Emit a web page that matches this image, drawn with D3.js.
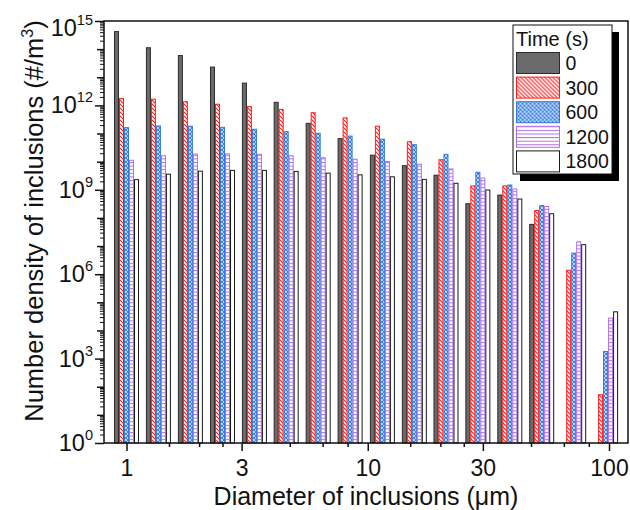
<!DOCTYPE html>
<html>
<head>
<meta charset="utf-8">
<script src="https://cdn.jsdelivr.net/npm/d3@7"></script>
<style>
  html, body { margin: 0; padding: 0; background: #fff; }
  svg { display: block; font-family: "Liberation Sans", Arial, sans-serif; }
</style>
</head>
<body>
<svg id="chart" width="630" height="510"></svg>
<script>
// Inclusion size bins (µm), one bar group per bin
const diameters = [1.0, 1.356, 1.84, 2.5, 3.39, 4.59, 6.23, 8.45, 11.5, 15.6, 21.1, 28.6, 38.8, 52.6, 71.4, 96.8];

// Holding times (s)
const times = ["0", "300", "600", "1200", "1800"];

// Number density of inclusions (#/m^3), one array per holding time (null = no bar)
const series0 = [4.2e14, 1.12e14, 5.9e13, 2.3e13, 6.2e12, 1.29e12, 2.3e11, 6.6e10, 1.7e10, 7.2e9, 3.3e9, 3.2e8, 6.5e8, 5.9e7, null, null];
const series300 = [1.74e12, 1.66e12, 1.35e12, 1.1e12, 9.1e11, 7.2e11, 5.5e11, 3.6e11, 1.82e11, 5.1e10, 1.17e10, 1.38e9, 1.38e9, 1.82e8, 1.38e6, 52];
const series600 = [1.62e11, 1.86e11, 1.82e11, 1.66e11, 1.41e11, 1.17e11, 1.02e11, 8.1e10, 6.3e10, 4.0e10, 1.82e10, 4.2e9, 1.48e9, 2.75e8, 5.6e6, 1.78e3];
const series1200 = [1.12e10, 1.62e10, 1.86e10, 1.9e10, 1.82e10, 1.62e10, 1.38e10, 1.23e10, 1.02e10, 8.1e9, 5.5e9, 2.63e9, 1.07e9, 2.57e8, 1.41e7, 2.75e4];
const series1800 = [2.3e9, 3.6e9, 4.6e9, 4.9e9, 4.9e9, 4.5e9, 3.9e9, 3.4e9, 2.9e9, 2.34e9, 1.7e9, 9.8e8, 4.7e8, 1.41e8, 1.12e7, 4.6e4];

const seriesValues = [series0, series300, series600, series1200, series1800];

// Axis ticks
const xMajorTicks = [1, 3, 10, 30, 100];
const xMinorTicks = [1.5, 2, 2.5, 4.75, 6.5, 8.25, 15, 20, 25, 47.5, 65, 82.5];
const yLabelExponents = [0, 3, 6, 9, 12, 15];

const svg = d3.select("#chart");

const frame = { left: 104, right: 628, top: 21, bottom: 443 };

const x = d3.scaleLog().domain([1, 100]).range([126.5, 609]);
const y = d3.scaleLog().domain([1, 1e15]).range([frame.bottom, frame.top]);

const barW = 5;

// Fill styles per holding time
const defs = svg.append("defs");

// 300 s: red back-diagonal hatch
const pRed = defs.append("pattern").attr("id", "hatchRed")
  .attr("patternUnits", "userSpaceOnUse").attr("width", 4).attr("height", 4);
pRed.append("rect").attr("width", 4).attr("height", 4).attr("fill", "#fff");
pRed.append("path").attr("d", "M-1,-1 L5,5 M3,-1 L5,1 M-1,3 L1,5")
  .attr("stroke", "#ff1a1a").attr("stroke-width", 1.1);

// 600 s: blue cross-hatch
const pBlue = defs.append("pattern").attr("id", "hatchBlue")
  .attr("patternUnits", "userSpaceOnUse").attr("width", 4).attr("height", 4);
pBlue.append("rect").attr("width", 4).attr("height", 4).attr("fill", "#fff");
pBlue.append("path").attr("d", "M-1,-1 L5,5 M3,-1 L5,1 M-1,3 L1,5 M-1,5 L5,-1 M-1,1 L1,-1 M3,5 L5,3")
  .attr("stroke", "#2f78e0").attr("stroke-width", 1.1);

// 1200 s: purple horizontal lines
const pPurple = defs.append("pattern").attr("id", "hatchPurple")
  .attr("patternUnits", "userSpaceOnUse").attr("width", 4).attr("height", 3.6);
pPurple.append("rect").attr("width", 4).attr("height", 3.6).attr("fill", "#fff");
pPurple.append("line").attr("x1", 0).attr("x2", 4).attr("y1", 0.5).attr("y2", 0.5)
  .attr("stroke", "#b06ee6").attr("stroke-width", 1);

const fills = ["#6b6b6b", "url(#hatchRed)", "url(#hatchBlue)", "url(#hatchPurple)", "#ffffff"];
const strokes = ["#2a2a2a", "#ff1a1a", "#2f78e0", "#b06ee6", "#1a1a1a"];

// Bars
const bars = svg.append("g");
seriesValues.forEach((vals, si) => {
  const rows = diameters.map((d, i) => ({ d, v: vals[i] })).filter(r => r.v != null);
  bars.selectAll(null).data(rows).enter().append("rect")
    .attr("x", r => x(r.d) + (si - 2.5) * barW + 0.5)
    .attr("y", r => y(r.v))
    .attr("width", barW - 1)
    .attr("height", r => frame.bottom - y(r.v))
    .attr("fill", fills[si])
    .attr("stroke", strokes[si])
    .attr("stroke-width", 1);
});

// Frame
svg.append("rect")
  .attr("x", frame.left).attr("y", frame.top)
  .attr("width", frame.right - frame.left).attr("height", frame.bottom - frame.top)
  .attr("fill", "none").attr("stroke", "#111").attr("stroke-width", 1.5);

// X axis
const xAxis = svg.append("g").attr("transform", `translate(0,${frame.bottom})`)
  .call(d3.axisBottom(x).tickValues(xMajorTicks).tickSize(8).tickPadding(9).tickFormat(d3.format("d")));
xAxis.select(".domain").remove();
xAxis.selectAll(".tick line").attr("stroke", "#111").attr("stroke-width", 1.5);
xAxis.selectAll(".tick text")
  .attr("y", null).attr("dy", null)
  .attr("transform", "translate(0,33)")
  .attr("font-size", 23).attr("fill", "#111")
  .attr("font-family", "Liberation Sans, Arial, sans-serif");

const xMinor = svg.append("g").attr("transform", `translate(0,${frame.bottom})`)
  .call(d3.axisBottom(x).tickValues(xMinorTicks).tickSize(4).tickFormat(""));
xMinor.select(".domain").remove();
xMinor.selectAll(".tick line").attr("stroke", "#111").attr("stroke-width", 1.5);

// Y axis: decade ticks, log minor ticks, labels every third decade
const decades = d3.range(0, 16).map(e => Math.pow(10, e));
const yMinorVals = [];
for (let e = 0; e < 15; e++) for (let m = 2; m <= 9; m++) yMinorVals.push(m * Math.pow(10, e));

const yMinor = svg.append("g").attr("transform", `translate(${frame.left},0)`)
  .call(d3.axisLeft(y).tickValues(yMinorVals).tickSize(4).tickFormat(""));
yMinor.select(".domain").remove();
yMinor.selectAll(".tick line").attr("stroke", "#111").attr("stroke-width", 1);

const yMajor = svg.append("g").attr("transform", `translate(${frame.left},0)`)
  .call(d3.axisLeft(y).tickValues(decades)
    .tickSizeInner(7).tickSizeOuter(0).tickFormat(""));
yMajor.select(".domain").remove();
yMajor.selectAll(".tick line").attr("stroke", "#111").attr("stroke-width", 1.5)
  .attr("x2", d => (yLabelExponents.includes(Math.round(Math.log10(d))) ? -9 : -7));

const yLabels = svg.append("g");
yLabelExponents.forEach(e => {
  const base = y(Math.pow(10, e)) + (e === 15 ? 15 : 8);
  const t = yLabels.append("text")
    .attr("x", 93).attr("y", base)
    .attr("text-anchor", "end").attr("font-size", 23.5).attr("fill", "#111");
  t.append("tspan").text("10");
  t.append("tspan").attr("font-size", 14.5).attr("dy", -11).text(e);
});

// Axis titles
svg.append("text")
  .attr("x", 366).attr("y", 504.5)
  .attr("text-anchor", "middle").attr("font-size", 25).attr("fill", "#111")
  .text("Diameter of inclusions (μm)");

const yTitle = svg.append("text")
  .attr("transform", "translate(43,221) rotate(-90)")
  .attr("text-anchor", "middle").attr("font-size", 25.5).attr("fill", "#111");
yTitle.append("tspan").text("Number density of inclusions (#/m");
yTitle.append("tspan").attr("font-size", 16).attr("dy", -10).text("3");
yTitle.append("tspan").attr("dy", 10).text(")");

// Legend with drop shadow
const lg = { x: 513, y: 25, w: 99, h: 149 };
svg.append("rect").attr("x", lg.x + 7).attr("y", lg.y + 7).attr("width", lg.w).attr("height", lg.h).attr("fill", "#000");
svg.append("rect").attr("x", lg.x).attr("y", lg.y).attr("width", lg.w).attr("height", lg.h)
  .attr("fill", "#fff").attr("stroke", "#111").attr("stroke-width", 1);
svg.append("text").attr("x", lg.x + 3).attr("y", lg.y + 21).attr("font-size", 20).attr("fill", "#111").text("Time (s)");

const legendItems = svg.append("g").selectAll("g").data(times).enter().append("g")
  .attr("transform", (d, i) => `translate(${lg.x + 3.5},${lg.y + 27.5 + i * 24.6})`);
legendItems.append("rect")
  .attr("width", 43).attr("height", 21)
  .attr("fill", (d, i) => fills[i]).attr("stroke", (d, i) => strokes[i]).attr("stroke-width", 1);
legendItems.append("text")
  .attr("x", 49).attr("y", 17.5).attr("font-size", 19.5).attr("fill", "#111")
  .text(d => d);
</script>
</body>
</html>
